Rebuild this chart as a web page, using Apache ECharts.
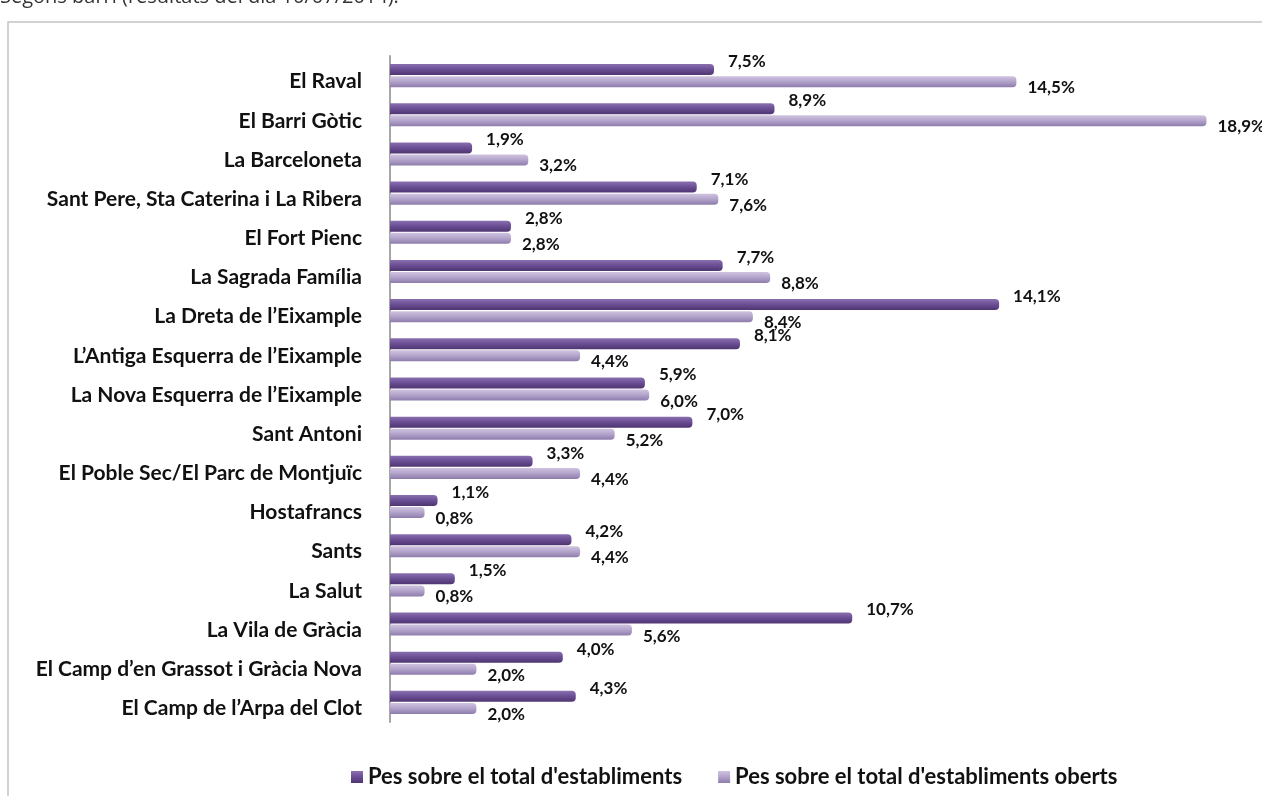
<!DOCTYPE html>
<html>
<head>
<meta charset="utf-8">
<script src="https://cdn.jsdelivr.net/npm/echarts@6/dist/echarts.min.js"></script>
<style>
html,body{margin:0;padding:0;background:#fff;}
#chart{width:1262px;height:796px;}
</style>
</head>
<body>
<div id="chart"></div>
<script>
var barris = ['El Raval','El Barri Gòtic','La Barceloneta','Sant Pere, Sta Caterina i La Ribera','El Fort Pienc',
    'La Sagrada Família','La Dreta de l\u2019Eixample','L\u2019Antiga Esquerra de l\u2019Eixample','La Nova Esquerra de l\u2019Eixample',
    'Sant Antoni','El Poble Sec/El Parc de Montjuïc','Hostafrancs','Sants','La Salut','La Vila de Gràcia',
    'El Camp d\u2019en Grassot i Gràcia Nova','El Camp de l\u2019Arpa del Clot'];
var pesTotal = [7.5, 8.9, 1.9, 7.1, 2.8, 7.7, 14.1, 8.1, 5.9, 7.0, 3.3, 1.1, 4.2, 1.5, 10.7, 4.0, 4.3];
var pesOberts = [14.5, 18.9, 3.2, 7.6, 2.8, 8.8, 8.4, 4.4, 6.0, 5.2, 4.4, 0.8, 4.4, 0.8, 5.6, 2.0, 2.0];
var nomSeries = ['Pes sobre el total d\'establiments', 'Pes sobre el total d\'establiments oberts'];

var myChart = echarts.init(document.getElementById('chart'));

function pct(p){
    return p.value.toFixed(1).replace('.', ',') + '%';
}
function cilindre(c1, c2, c3){
    return new echarts.graphic.LinearGradient(0, 0, 0, 1, [
        {offset: 0, color: c1}, {offset: 0.45, color: c2}, {offset: 1, color: c3}
    ]);
}

var option = {
    animation: false,
    textStyle: {fontFamily: 'Lato'},
    graphic: [
        {type: 'text', left: 0, top: -13, style: {text: 'Segons barri (resultats del dia 10/07/2014).', font: '20px "Open Sans"', fill: '#333'}},
        {type: 'rect', shape: {x: 8, y: 22, width: 1300, height: 800}, style: {fill: 'none', stroke: '#c4c4c4', lineWidth: 1.5}, z: -1}
    ],
    legend: {
        left: 346,
        top: 761,
        itemWidth: 12,
        itemHeight: 12,
        itemGap: 36,
        icon: 'rect',
        textStyle: {fontSize: 22, fontWeight: 'bold', color: '#111', fontFamily: 'Lato'},
        data: nomSeries
    },
    grid: {left: 390, right: 8, top: 56, bottom: 74},
    xAxis: {
        type: 'value',
        min: 0,
        max: 20,
        show: false
    },
    yAxis: {
        type: 'category',
        inverse: true,
        data: barris,
        axisLine: {lineStyle: {color: '#a6a6a6', width: 2}},
        axisTick: {lineStyle: {color: '#a6a6a6'}, length: 6},
        axisLabel: {fontSize: 21, fontWeight: 'bold', color: '#111', margin: 28, verticalAlign: 'top', lineHeight: 12, fontFamily: 'Lato'}
    },
    series: [
        {
            name: nomSeries[0],
            type: 'bar',
            data: pesTotal,
            barWidth: 11,
            barGap: '10%',
            itemStyle: {color: cilindre('#8a70b0', '#6d5096', '#4e3571'), borderRadius: [0, 4, 4, 0]},
            label: {show: true, position: 'right', offset: [9, -8], formatter: pct, fontSize: 17, fontWeight: 'bold', color: '#111'}
        },
        {
            name: nomSeries[1],
            type: 'bar',
            data: pesOberts,
            barWidth: 11,
            itemStyle: {color: cilindre('#cfc3e0', '#b5a6cd', '#8d7cab'), borderRadius: [0, 4, 4, 0]},
            label: {show: true, position: 'right', offset: [6, 6], formatter: pct, fontSize: 17, fontWeight: 'bold', color: '#111'}
        }
    ]
};
myChart.setOption(option);
</script>
</body>
</html>
